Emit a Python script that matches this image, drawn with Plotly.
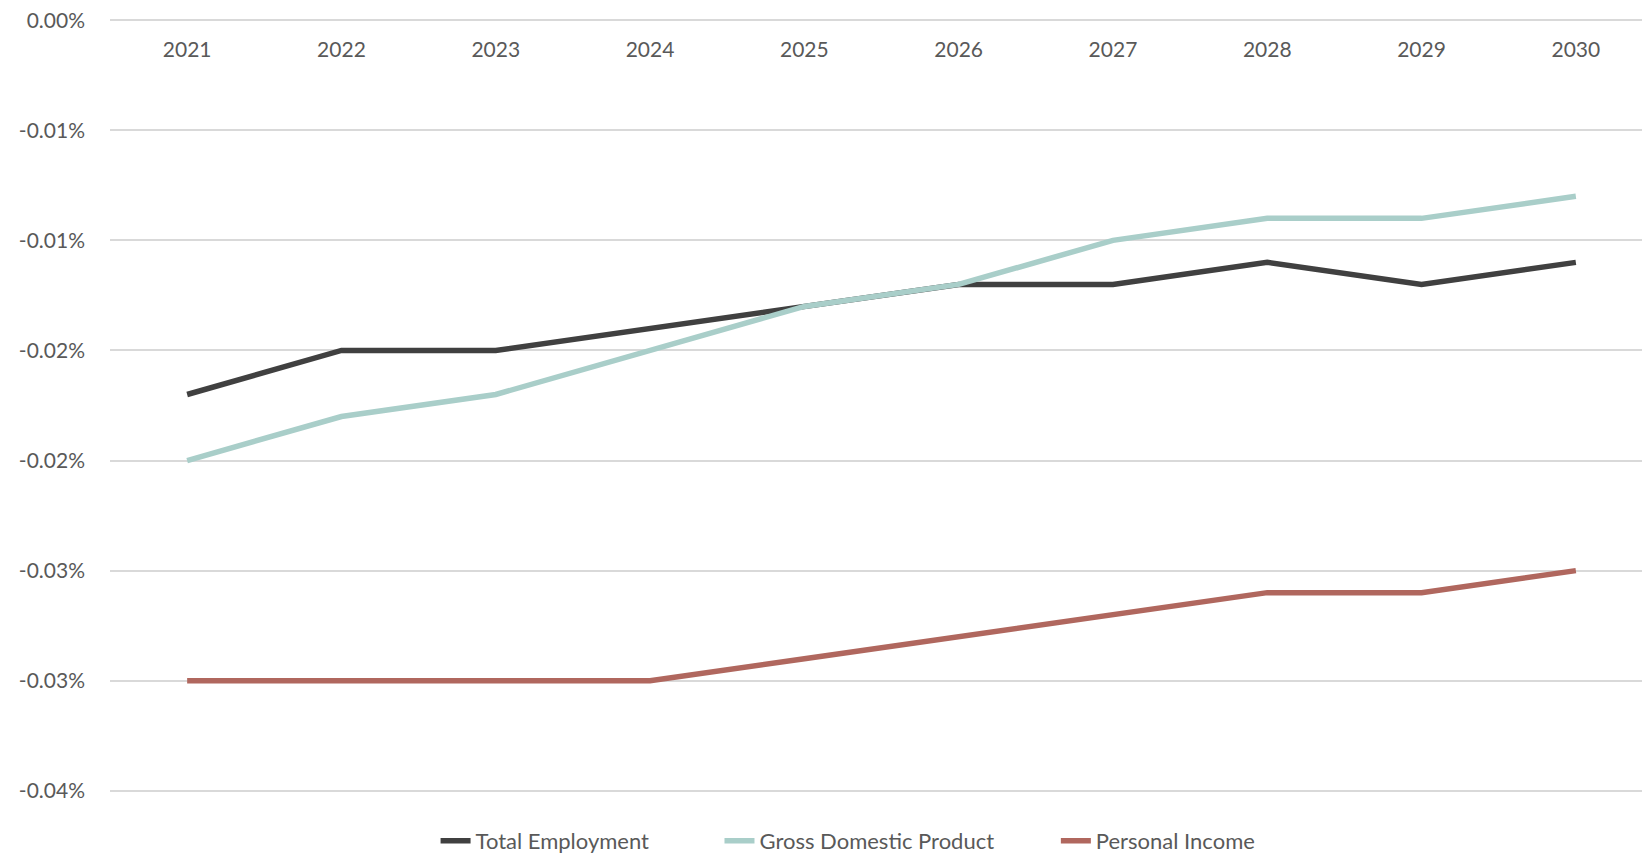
import plotly.graph_objects as go

# values (percent, stored as fractions)
years = ["2021", "2022", "2023", "2024", "2025", "2026", "2027", "2028", "2029", "2030"]
total_employment = [-0.00017, -0.00015, -0.00015, -0.00014, -0.00013, -0.00012, -0.00012, -0.00011, -0.00012, -0.00011]
gdp = [-0.00020, -0.00018, -0.00017, -0.00015, -0.00013, -0.00012, -0.00010, -0.00009, -0.00009, -0.00008]
personal_income = [-0.00030, -0.00030, -0.00030, -0.00030, -0.00029, -0.00028, -0.00027, -0.00026, -0.00026, -0.00025]

y_tickvals = [0, -0.00005, -0.00010, -0.00015, -0.00020, -0.00025, -0.00030, -0.00035]
y_ticktext = ["0.00%", "-0.01%", "-0.01%", "-0.02%", "-0.02%", "-0.03%", "-0.03%", "-0.04%"]

_FONT = "Lato"
_TICK_COLOR = "#595959"
_PAD = 0.0000010  # a little headroom so the edge gridlines/labels are drawn

series = [
    ("Total Employment", total_employment, "#404040", "legend", 0.211),
    ("Gross Domestic Product", gdp, "#a9cec9", "legend2", 0.395),
    ("Personal Income", personal_income, "#b0675e", "legend3", 0.613),
]

fig = go.Figure()
for name, vals, color, leg, _ in series:
    fig.add_trace(go.Scatter(
        x=years, y=vals, name=name, mode="lines",
        line=dict(color=color, width=5.5),
        legend=leg, showlegend=True,
    ))

legends = {}
for name, vals, color, leg, xpos in series:
    legends[leg] = dict(
        orientation="h", x=xpos, xanchor="left",
        y=-0.062, yanchor="middle",
        font=dict(size=22, color=_TICK_COLOR, family=_FONT),
        bgcolor="rgba(0,0,0,0)",
    )

# category labels sit just under the 0% line, like Excel's "axis crosses at 0"
fig.update_layout(
    width=1650, height=853,
    margin=dict(l=102, r=5, t=10, b=68, autoexpand=False),
    showlegend=True,
    plot_bgcolor="white", paper_bgcolor="white",
    font=dict(family=_FONT, size=21, color=_TICK_COLOR),
    xaxis=dict(
        type="category", range=[-0.5, 9.5],
        side="bottom", anchor="free", position=1.0,
        ticks="", showgrid=False, showline=False, zeroline=False,
        ticklabelstandoff=17,
    ),
    yaxis=dict(
        domain=[0, 1],
        range=[-0.00035 - _PAD, _PAD], tickvals=y_tickvals, ticktext=y_ticktext,
        showgrid=True, gridcolor="#d9d9d9", gridwidth=1.5,
        zeroline=False, showline=False, ticks="",
        ticklabelstandoff=24, ticklabeloverflow="allow",
    ),
    **legends,
)

fig.write_html("out.html")
